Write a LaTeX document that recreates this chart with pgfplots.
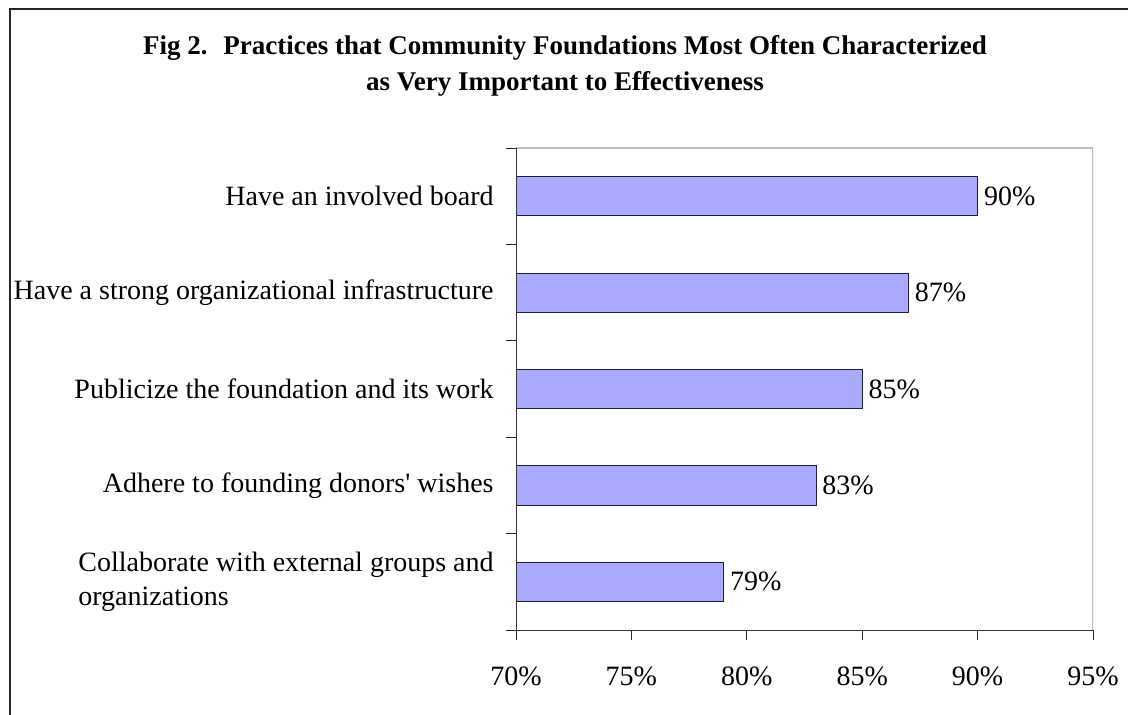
\documentclass[border=0pt]{standalone}
\usepackage{fontspec}
\setmainfont{Liberation Serif}
\usepackage{pgfplots}
\pgfplotsset{compat=1.18}

\definecolor{barfill}{RGB}{170,170,255}
\definecolor{barline}{RGB}{30,30,60}
\definecolor{frameline}{RGB}{190,190,190}

\begin{document}
\begin{tikzpicture}
\useasboundingbox (0,0) rectangle (564pt,357.5pt);
% outer frame (cut off at right and bottom)
\draw[line width=1pt, black!85] (5pt,0) -- (5pt,353pt) -- (564pt,353pt);

\node[font=\fontsize{13.5}{18}\selectfont\bfseries, align=center] at (282.5pt,324.5pt)
  {Fig 2.~ Practices that Community Foundations Most Often Characterized\\
   as Very Important to Effectiveness};

\begin{axis}[
    at={(258pt,42.5pt)}, anchor=south west,
    scale only axis,
    width=288.5pt, height=241pt,
    xbar, bar width=19.5pt,
    xmin=70, xmax=95,
    ymin=-0.5, ymax=4.5,
    y dir=reverse,
    axis line style={draw=none},
    xtick={70,75,80,85,90,95},
    xticklabels={70\%,75\%,80\%,85\%,90\%,95\%},
    xtick pos=bottom,
    ytick={-0.5,0.5,1.5,2.5,3.5,4.5},
    yticklabels={},
    ytick pos=left,
    extra y ticks={0,1,2,3,4},
    extra y tick labels={Have an involved board,
        Have a strong organizational infrastructure,
        Publicize the foundation and its work,
        Adhere to founding donors\textquotesingle\ wishes,
        {Collaborate with external groups and\\organizations}},
    extra y tick style={major tick length=0pt,
        yticklabel style={align=left, inner sep=0pt, xshift=-11pt}},
    tick align=outside,
    major tick length=5pt,
    tick style={black!85, thin},
    ticklabel style={font=\fontsize{14}{17}\selectfont},
    xticklabel style={yshift=-10pt},
    /pgf/number format/assume math mode=true,
    point meta=x,
    nodes near coords={\pgfmathprintnumber{\pgfplotspointmeta}\%},
    nodes near coords style={anchor=west, inner sep=0pt, xshift=3pt,
        font=\fontsize{14}{17}\selectfont},
]
\addplot[draw=barline, fill=barfill, thin] coordinates {
    (90,0) (87,1) (85,2) (83,3) (79,4)
};
% plot-area border: grey top and right, dark left and bottom
\draw[frameline, line width=1pt] (rel axis cs:1,0) -- (rel axis cs:1,1) -- (rel axis cs:0,1);
\draw[black!80, thin] (rel axis cs:0,1) -- (rel axis cs:0,0) -- (rel axis cs:1,0);
\end{axis}
\end{tikzpicture}
\end{document}
